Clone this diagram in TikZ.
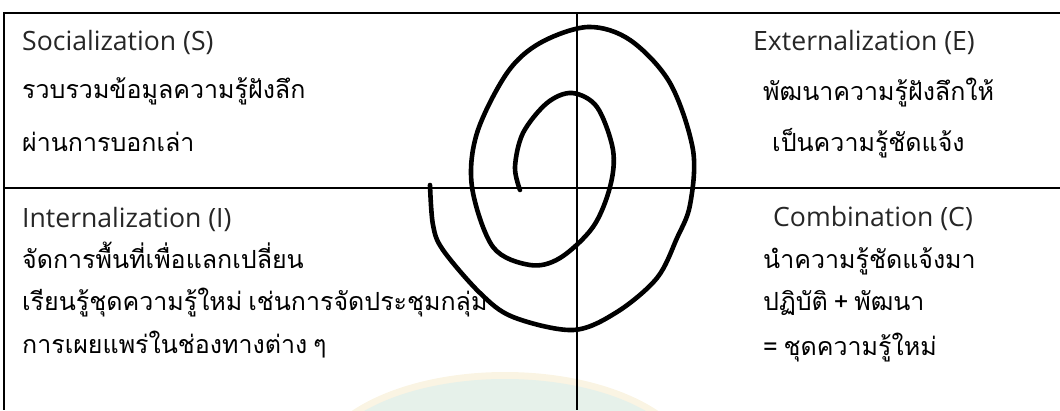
\documentclass[tikz,border=0pt]{standalone}
\usepackage{fontspec}
\setmainfont{Open Sans}
\newfontfamily\thaifont[Script=Thai,WordSpace=0.7]{Loma}
\usepackage{xcolor}
\usepackage{tikz}
\definecolor{wmbeige}{HTML}{FAF4E3}
\definecolor{wmmint}{HTML}{E6F1EA}

\begin{document}
\begin{tikzpicture}[x=1pt,y=-1pt,
  txt/.style={anchor=base west,inner sep=0pt,font=\thaifont\fontsize{25}{30}\selectfont},
  head/.style={anchor=base west,inner sep=0pt,font=\fontsize{26.6}{30}\selectfont,text=black!85},
  border/.style={line width=2pt},
  grid/.style={line width=1.3pt}]
\useasboundingbox (0,0) rectangle (1060,410);
% faint watermark at the foot
\begin{scope}
\clip (0,0) rectangle (1060,410);
\fill[wmbeige](505,470)ellipse(192 and 98);
\fill[wmmint](505,470)ellipse(185 and 91);
\end{scope}
% table
\draw[border](1060,13)--(4,13)--(4,410);
\draw[grid](4,188)--(1060,188)
(577,13)--(577,410);
% spiral
\draw[line width=4.6pt,line cap=round,line join=round]plot[smooth,tension=0.55]coordinates{
(520,190)(515,167)(523,133)(547,103)(572,93)(597,107)(613,150)(610,187)(593,227)
(560,258)(530,265)(493,247)(472,187)(477,133)(507,73)(540,43)(588,27)(630,40)(670,83)
(693,150)(690,205)(677,238)(657,278)(617,312)(573,330)(513,317)(480,293)(443,250)
(433,225)(430,185)};
% quadrant texts
\node[head](s1)at(22,50){Socialization (S)};
\node[txt](s2)at(22,98){รวบรวมข้อมูลความรู้ฝังลึก};
\node[txt](s3)at(22,151){ผ่านการบอกเล่า};
\node[head](e1)at(753,50){Externalization (E)};
\node[txt](e2)at(763,100){พัฒนาความรู้ฝังลึกให้};
\node[txt](e3)at(772,151){เป็นความรู้ชัดแจ้ง};
\node[head](i1)at(22,227){Internalization (I)};
\node[txt](i2)at(22,268){จัดการพื้นที่เพื่อแลกเปลี่ยน};
\node[txt](i3)at(22,310){เรียนรู้ชุดความรู้ใหม่ เช่นการจัดประชุมกลุ่ม};
\node[txt](i4)at(22,353){การเผยแพร่ในช่องทางต่าง ๆ};
\node[head](c1)at(773,226){Combination (C)};
\node[txt](c2)at(763,268){นำความรู้ชัดแจ้งมา};
\node[txt](c3)at(763,310){ปฏิบัติ + พัฒนา};
\node[txt](c4)at(763,355){= ชุดความรู้ใหม่};
\end{tikzpicture}
\end{document}
